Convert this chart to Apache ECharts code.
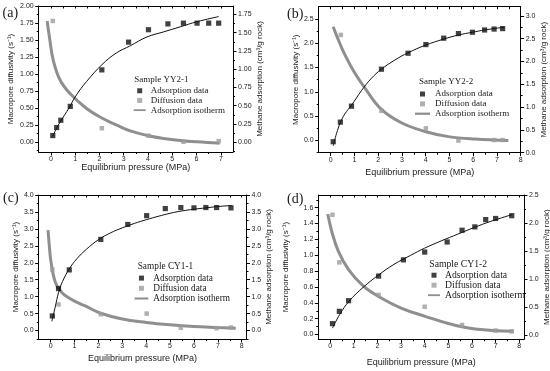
<!DOCTYPE html>
<html><head><meta charset="utf-8">
<script src="https://cdn.jsdelivr.net/npm/echarts@6/dist/echarts.min.js"></script>
<style>html,body{margin:0;padding:0;background:#fff}#c{width:550px;height:371px}</style>
</head><body><div id="c"></div>
<script>
// ---------- (a) Sample YY2-1 ----------
const aAdsP = [0.08, 0.24, 0.41, 0.80, 2.10, 3.20, 4.02, 4.82, 5.46, 6.02, 6.50, 6.91];
const aAdsV = [0.09, 0.20, 0.30, 0.49, 0.99, 1.37, 1.54, 1.62, 1.63, 1.63, 1.63, 1.63];
const aDifP = [0.08, 2.10, 4.02, 5.46, 6.91];
const aDifV = [1.78, 0.20, 0.09, 0.00, 0.01];
const aIsoP = [0.08, 0.25, 0.41, 0.75, 1.02, 1.47, 2.10, 2.69, 3.27, 3.95, 4.64, 5.33, 6.02, 6.91];
const aIsoV = [0.08, 0.20, 0.29, 0.47, 0.63, 0.83, 1.06, 1.22, 1.32, 1.44, 1.51, 1.58, 1.65, 1.72];
const aFitP = [-0.15, -0.05, 0.10, 0.38, 0.79, 1.47, 2.10, 2.69, 3.27, 4.02, 4.64, 5.33, 6.02, 6.95];
const aFitV = [1.78, 1.52, 1.20, 0.91, 0.71, 0.49, 0.35, 0.25, 0.16, 0.09, 0.05, 0.02, 0.00, -0.02];
const aXTicks = [0, 1, 2, 3, 4, 5, 6, 7];
const aXMinor = [0.5, 1.5, 2.5, 3.5, 4.5, 5.5, 6.5];
const aLTicks = [0, 0.25, 0.5, 0.75, 1, 1.25, 1.5, 1.75, 2];
const aLMinor = [-0.125, 0.125, 0.375, 0.625, 0.875, 1.125, 1.375, 1.625, 1.875];
const aRTicks = [0, 0.25, 0.5, 0.75, 1, 1.25, 1.5, 1.75];
const aRMinor = [-0.125, 0.125, 0.375, 0.625, 0.875, 1.125, 1.375, 1.625];

// ---------- (b) Sample YY2-2 ----------
const bAdsP = [0.11, 0.41, 0.88, 2.14, 3.26, 4.01, 4.76, 5.38, 5.97, 6.48, 6.88, 7.24];
const bAdsV = [0.24, 0.67, 1.02, 1.83, 2.18, 2.37, 2.51, 2.61, 2.64, 2.69, 2.71, 2.72];
const bDifP = [0.43, 2.14, 4.01, 5.38, 6.88, 7.24];
const bDifV = [2.17, 0.61, 0.25, 0.00, 0.01, 0.01];
const bIsoP = [0.11, 0.25, 0.41, 0.60, 0.88, 1.30, 1.70, 2.14, 2.70, 3.26, 4.01, 4.76, 5.38, 5.97, 6.48, 6.88, 7.30];
const bIsoV = [0.15, 0.42, 0.66, 0.85, 1.04, 1.36, 1.62, 1.83, 2.03, 2.19, 2.36, 2.49, 2.58, 2.64, 2.69, 2.72, 2.75];
const bFitP = [0.11, 0.30, 0.49, 0.70, 0.98, 1.47, 2.14, 3.00, 4.01, 4.96, 6.08, 7.48];
const bFitV = [2.34, 2.10, 1.88, 1.67, 1.42, 1.06, 0.64, 0.36, 0.18, 0.08, 0.03, 0.00];
const bXTicks = [0, 1, 2, 3, 4, 5, 6, 7, 8];
const bXMinor = [0.5, 1.5, 2.5, 3.5, 4.5, 5.5, 6.5, 7.5];
const bLTicks = [0, 0.5, 1, 1.5, 2, 2.5];
const bLMinor = [-0.25, 0.25, 0.75, 1.25, 1.75, 2.25];
const bRTicks = [0, 0.5, 1, 1.5, 2, 2.5, 3];
const bRMinor = [0.25, 0.75, 1.25, 1.75, 2.25, 2.75];

// ---------- (c) Sample CY1-1 ----------
const cAdsP = [0.07, 0.33, 0.78, 2.10, 3.23, 4.02, 4.80, 5.45, 6.00, 6.50, 6.95, 7.55];
const cAdsV = [0.43, 1.24, 1.79, 2.69, 3.13, 3.39, 3.60, 3.63, 3.62, 3.63, 3.63, 3.62];
const cDifP = [0.07, 0.33, 2.10, 4.02, 5.45, 6.95, 7.55];
const cDifV = [1.80, 0.77, 0.48, 0.50, 0.08, 0.07, 0.09];
const cIsoP = [0.05, 0.20, 0.33, 0.50, 0.78, 1.10, 1.50, 2.00, 2.50, 3.00, 3.50, 4.00, 4.50, 5.00, 5.50, 6.00, 6.50, 7.00, 7.60];
const cIsoV = [0.27, 0.72, 1.12, 1.45, 1.82, 2.12, 2.40, 2.68, 2.88, 3.03, 3.16, 3.27, 3.37, 3.46, 3.53, 3.58, 3.62, 3.66, 3.69];
const cFitP = [-0.11, -0.05, 0.00, 0.10, 0.20, 0.35, 0.55, 0.75, 1.00, 1.40, 2.10, 3.00, 4.00, 5.00, 6.00, 7.00, 7.75];
const cFitV = [2.96, 2.45, 2.10, 1.68, 1.42, 1.22, 1.07, 0.97, 0.87, 0.74, 0.51, 0.34, 0.24, 0.17, 0.12, 0.09, 0.07];
const cXTicks = [0, 1, 2, 3, 4, 5, 6, 7, 8];
const cXMinor = [0.5, 1.5, 2.5, 3.5, 4.5, 5.5, 6.5, 7.5];
const cLTicks = [0, 0.5, 1, 1.5, 2, 2.5, 3, 3.5, 4];
const cLMinor = [-0.25, 0.25, 0.75, 1.25, 1.75, 2.25, 2.75, 3.25, 3.75];
const cRTicks = [0, 0.5, 1, 1.5, 2, 2.5, 3, 3.5, 4];
const cRMinor = [-0.25, 0.25, 0.75, 1.25, 1.75, 2.25, 2.75, 3.25, 3.75];

// ---------- (d) Sample CY1-2 ----------
const dAdsP = [0.10, 0.39, 0.78, 2.05, 3.10, 4.00, 4.95, 5.58, 6.12, 6.58, 7.00, 7.68];
const dAdsV = [0.20, 0.42, 0.61, 1.05, 1.34, 1.48, 1.66, 1.87, 1.93, 2.06, 2.08, 2.13];
const dDifP = [0.10, 0.39, 2.05, 4.00, 5.58, 7.00, 7.68];
const dDifV = [1.51, 0.91, 0.50, 0.35, 0.12, 0.05, 0.04];
const dIsoP = [0.10, 0.40, 0.80, 1.40, 2.05, 2.70, 3.40, 4.00, 4.70, 5.40, 6.10, 6.80, 7.70];
const dIsoV = [0.12, 0.36, 0.60, 0.85, 1.07, 1.26, 1.42, 1.55, 1.68, 1.80, 1.92, 2.03, 2.15];
const dFitP = [-0.10, 0.07, 0.35, 0.78, 1.41, 2.05, 3.03, 4.02, 5.00, 6.14, 7.76];
const dFitV = [1.52, 1.30, 1.05, 0.82, 0.61, 0.48, 0.33, 0.23, 0.14, 0.07, 0.04];
const dXTicks = [0, 1, 2, 3, 4, 5, 6, 7, 8];
const dXMinor = [0.5, 1.5, 2.5, 3.5, 4.5, 5.5, 6.5, 7.5];
const dLTicks = [0, 0.2, 0.4, 0.6, 0.8, 1.0, 1.2, 1.4, 1.6];
const dLMinor = [0.1, 0.3, 0.5, 0.7, 0.9, 1.1, 1.3, 1.5, 1.7];
const dRTicks = [0, 0.5, 1, 1.5, 2, 2.5];
const dRMinor = [0.25, 0.75, 1.25, 1.75, 2.25];

const panelLabels = ['(a)', '(b)', '(c)', '(d)'];
const sampleNames = ['Sample YY2-1', 'Sample YY2-2', 'Sample CY1-1', 'Sample CY1-2'];
const xName = 'Equilibrium pressure (MPa)';
const yLeftName = 'Macropore diffusivity (s\u207B\u00B9)';
const yRightName = 'Methane adsorption (cm\u00B3/g rock)';

// ---------- layout (positions / styles only) ----------
const LAYOUT = [
  {g:[38.7,6,194.3,146], x:[-0.5,7.5], yl:[-0.15,2.0], yr:[-0.135,1.865], dl:2, dr:2, xng:11.5, ylng:23.5, yrng:19.2, lab:[2.5,6.5], smp:[134.3,75.2], lg:[133.7,85.9,12,9.7], fs:9},
  {g:[318.7,6.7,202,146], x:[-0.5,8], yl:[-0.25,2.75], yr:[0,3.2], dl:1, dr:1, xng:15, ylng:14, yrng:16.5, lab:[287,7.5], smp:[419,77.2], lg:[415,89.1,15,9.85], fs:9},
  {g:[38.7,195,207.8,144], x:[-0.5,8.2], yl:[-0.25,4], yr:[-0.25,4], dl:1, dr:1, xng:15.5, ylng:19.2, yrng:15.7, lab:[3,191.5], smp:[137.7,262], lg:[134.6,273,13.7,10.2], fs:9.3},
  {g:[318.3,195,205.7,144.3], x:[-0.5,8.2], yl:[-0.06,1.76], yr:[-0.08,2.5], dl:1, dr:1, xng:19, ylng:28.8, yrng:13.2, lab:[287,192.5], smp:[429.3,259.5], lg:[428,270.2,12,9.35], fs:9.7}
];

const DATA = [
  {ads:[aAdsP,aAdsV], dif:[aDifP,aDifV], iso:[aIsoP,aIsoV], fit:[aFitP,aFitV], xt:aXTicks, xm:aXMinor, lt:aLTicks, lm:aLMinor, rt:aRTicks, rm:aRMinor},
  {ads:[bAdsP,bAdsV], dif:[bDifP,bDifV], iso:[bIsoP,bIsoV], fit:[bFitP,bFitV], xt:bXTicks, xm:bXMinor, lt:bLTicks, lm:bLMinor, rt:bRTicks, rm:bRMinor},
  {ads:[cAdsP,cAdsV], dif:[cDifP,cDifV], iso:[cIsoP,cIsoV], fit:[cFitP,cFitV], xt:cXTicks, xm:cXMinor, lt:cLTicks, lm:cLMinor, rt:cRTicks, rm:cRMinor},
  {ads:[dAdsP,dAdsV], dif:[dDifP,dDifV], iso:[dIsoP,dIsoV], fit:[dFitP,dFitV], xt:dXTicks, xm:dXMinor, lt:dLTicks, lm:dLMinor, rt:dRTicks, rm:dRMinor}
];

const SANS = 'Liberation Sans', SERIF = 'Liberation Serif', TXT = '#1a1a1a';
const GRAY_LINE = '#8f8f8f', GRAY_PT = '#9c9c9c', BLACK = '#111';
const SQ = 'path://M0,0L10,0L10,10L0,10Z';
const BAR = 'path://M0,0L40,0L40,6L0,6Z';
const pts = (xs, ys) => xs.map((x, i) => [x, ys[i]]);

const grids = [], xAxes = [], yAxes = [], series = [], legends = [], titles = [];
const lineAx = {show:true, onZero:false, lineStyle:{color:'#000', width:1}};
const noLine = {show:false, onZero:false};

LAYOUT.forEach((L, gi) => {
  const D = DATA[gi];
  grids.push({left:L.g[0], top:L.g[1], width:L.g[2], height:L.g[3], containLabel:false, outerBoundsMode:'none'});
  const xBase = {type:'value', gridIndex:gi, min:L.x[0], max:L.x[1], splitLine:{show:false}};
  const xi = xAxes.length;
  xAxes.push(Object.assign({}, xBase, {position:'bottom', axisLine:lineAx,
    axisTick:{show:true, customValues:D.xt, length:3.5, lineStyle:{color:'#000'}},
    axisLabel:{show:true, customValues:D.xt, formatter:v => String(v), margin:3.5, fontSize:7, fontFamily:SANS, color:TXT},
    name:xName, nameLocation:'middle', nameGap:L.xng, nameTextStyle:{fontSize:9, fontFamily:SANS, color:TXT}}));
  xAxes.push(Object.assign({}, xBase, {position:'bottom', axisLine:noLine,
    axisTick:{show:true, customValues:D.xm, length:2, lineStyle:{color:'#000'}}, axisLabel:{show:false}}));
  xAxes.push(Object.assign({}, xBase, {position:'top', axisLine:lineAx,
    axisTick:{show:true, inside:true, customValues:D.xt.concat(D.xm), length:2.5, lineStyle:{color:'#000'}}, axisLabel:{show:false}}));

  const yl = yAxes.length;
  const yBase = (rng) => ({type:'value', gridIndex:gi, min:rng[0], max:rng[1], splitLine:{show:false}});
  yAxes.push(Object.assign(yBase(L.yl), {position:'left', axisLine:lineAx,
    axisTick:{show:true, customValues:D.lt, length:3.5, lineStyle:{color:'#000'}},
    axisLabel:{show:true, customValues:D.lt, formatter:v => v.toFixed(L.dl), margin:5, fontSize:7, fontFamily:SANS, color:TXT},
    name:yLeftName, nameLocation:'middle', nameGap:L.ylng, nameTextStyle:{fontSize:8, fontFamily:SANS, color:TXT}}));
  yAxes.push(Object.assign(yBase(L.yl), {position:'left', axisLine:noLine,
    axisTick:{show:true, customValues:D.lm, length:2, lineStyle:{color:'#000'}}, axisLabel:{show:false}}));
  const yr = yAxes.length;
  yAxes.push(Object.assign(yBase(L.yr), {position:'right', axisLine:lineAx,
    axisTick:{show:true, customValues:D.rt, length:3.5, lineStyle:{color:'#000'}},
    axisLabel:{show:true, customValues:D.rt, formatter:v => v.toFixed(L.dr), margin:5, fontSize:7, fontFamily:SANS, color:TXT},
    name:yRightName, nameLocation:'middle', nameGap:L.yrng, nameTextStyle:{fontSize:8, fontFamily:SANS, color:TXT}}));
  yAxes.push(Object.assign(yBase(L.yr), {position:'right', axisLine:noLine,
    axisTick:{show:true, customValues:D.rm, length:2, lineStyle:{color:'#000'}}, axisLabel:{show:false}}));

  series.push({type:'line', name:'Adsorption isotherm', xAxisIndex:xi, yAxisIndex:yl, data:pts(D.fit[0], D.fit[1]),
    smooth:0.4, symbol:'none', showSymbol:false, lineStyle:{color:GRAY_LINE, width:3}, itemStyle:{color:GRAY_LINE}, z:2, silent:true});
  series.push({type:'scatter', name:'Diffusion data', xAxisIndex:xi, yAxisIndex:yl, data:pts(D.dif[0], D.dif[1]),
    symbol:'rect', symbolSize:4.5, itemStyle:{color:GRAY_PT}, z:3, silent:true});
  series.push({type:'line', name:'fit', xAxisIndex:xi, yAxisIndex:yr, data:pts(D.iso[0], D.iso[1]),
    smooth:0.4, symbol:'none', showSymbol:false, lineStyle:{color:BLACK, width:1}, z:4, silent:true});
  series.push({type:'scatter', name:'Adsorption data', xAxisIndex:xi, yAxisIndex:yr, data:pts(D.ads[0], D.ads[1]),
    symbol:'rect', symbolSize:5.2, itemStyle:{color:BLACK}, z:5, silent:true});

  titles.push({text:panelLabels[gi], left:L.lab[0], top:L.lab[1], padding:0,
    textStyle:{fontFamily:SERIF, fontSize:14, fontWeight:'normal', color:TXT}});
  titles.push({text:sampleNames[gi], left:L.smp[0], top:L.smp[1], padding:0,
    textStyle:{fontFamily:SERIF, fontSize:L.fs, fontWeight:'normal', color:TXT}});
  legends.push({left:L.lg[0], top:L.lg[1], orient:'vertical', padding:0, itemGap:0,
    itemWidth:L.lg[2], itemHeight:5, symbolKeepAspect:true, selectedMode:false,
    textStyle:{fontFamily:SERIF, fontSize:L.fs, color:TXT, lineHeight:L.lg[3]},
    data:[{name:'Adsorption data', icon:SQ}, {name:'Diffusion data', icon:SQ},
          {name:'Adsorption isotherm', icon:BAR, itemStyle:{color:GRAY_LINE}}]});
});

const chart = echarts.init(document.getElementById('c'), null, {renderer:'canvas', width:550, height:371});
chart.setOption({
  animation:false,
  backgroundColor:'#fff',
  textStyle:{fontFamily:SANS},
  title:titles, legend:legends, grid:grids, xAxis:xAxes, yAxis:yAxes, series:series
});
</script></body></html>
